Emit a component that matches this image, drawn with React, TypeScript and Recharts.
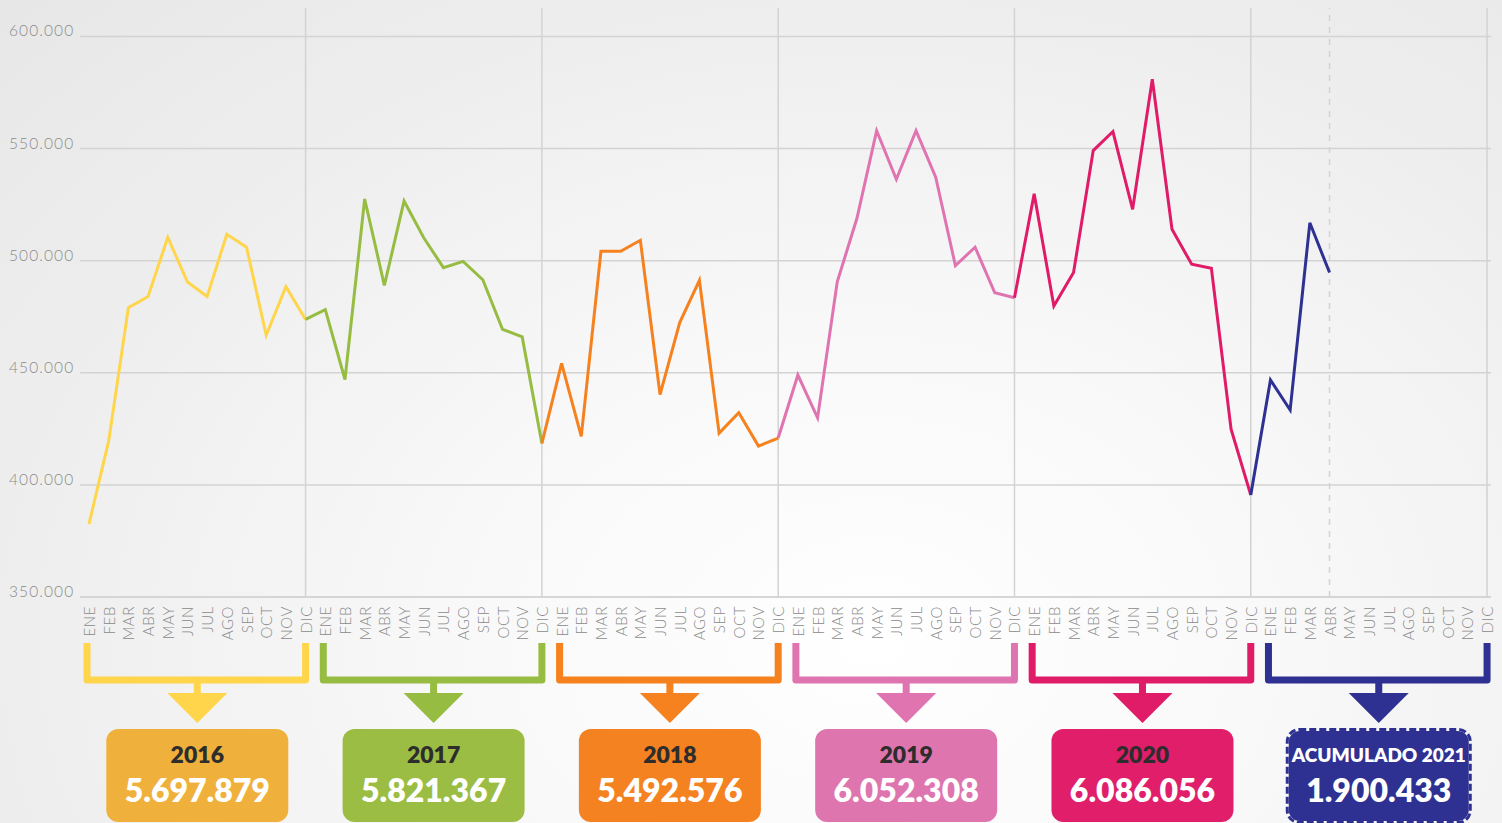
import React from "react";
import { LineChart, Line, XAxis, YAxis, ReferenceLine } from "recharts";

const MONTHS = ["ENE", "FEB", "MAR", "ABR", "MAY", "JUN", "JUL", "AGO", "SEP", "OCT", "NOV", "DIC"];
const YEARS = ["2016", "2017", "2018", "2019", "2020", "2021"];

const v2016 = [382600, 419600, 479000, 484000, 510400, 490500, 484000, 511800, 506000, 466700, 488400, 473800];
const v2017 = [478200, 447000, 527500, 489000, 526600, 510200, 496900, 499700, 491500, 469400, 466000, 418500];
const v2018 = [454200, 421600, 504200, 504200, 509100, 440300, 472400, 491200, 423100, 432200, 417300, 420900];
const v2019 = [449000, 429900, 490600, 518900, 558000, 536300, 558000, 537200, 497800, 506000, 485700, 483500];
const v2020 = [529800, 479800, 494700, 549100, 557600, 522900, 580900, 514000, 498400, 496600, 424800, 395500];
const v2021 = [446800, 433400, 516900, 494700];

const BOX_TITLES = ["2016", "2017", "2018", "2019", "2020", "ACUMULADO 2021"];
const TOTALS = ["5.697.879", "5.821.367", "5.492.576", "6.052.308", "6.086.056", "1.900.433"];
const Y_TICKS = [350000, 400000, 450000, 500000, 550000, 600000];

const SERIES = [v2016, v2017, v2018, v2019, v2020, v2021];
const LINE_COLORS = ["#FFD54C", "#97BC42", "#F5821F", "#E074B1", "#E01B68", "#2E3192"];
const BOX_COLORS = ["#EFB13C", "#9BBD43", "#F58220", "#DF75AF", "#E01E6A", "#2E3192"];
const FONT = "Lato, 'Open Sans', sans-serif";
const GRID = "#d3d3d3";

// one row per month, each year's line also starts at the previous year's DIC
const rows: any[] = [];
YEARS.forEach((_, k) =>
  MONTHS.forEach((m, j) => rows.push({ i: k * 12 + j, month: m }))
);
SERIES.forEach((vals, k) => {
  vals.forEach((v, j) => (rows[k * 12 + j]["s" + k] = v));
  if (k > 0) rows[k * 12 - 1]["s" + k] = SERIES[k - 1][11];
});

const fmt = (v: number) => String(v).replace(/\B(?=(\d{3})+(?!\d))/g, ".");

const MonthTick = ({ x, y, payload }: any) => (
  <text
    transform={`translate(${x},${y}) rotate(-90)`}
    textAnchor="end"
    dominantBaseline="central"
    fill="#8a8a8a"
    fontSize={15}
    fontWeight={300}
    letterSpacing={0.6}
    fontFamily={FONT}
  >
    {MONTHS[payload.value % 12]}
  </text>
);

const ValueTick = ({ y, payload }: any) => (
  <text
    x={9}
    y={y - 6}
    dominantBaseline="central"
    fill="#8b8b8b"
    fontSize={15.5}
    fontWeight={300}
    letterSpacing={1.1}
    fontFamily={FONT}
  >
    {fmt(payload.value)}
  </text>
);

const YearBracket = ({ x1, x2, y1, k }: any) => {
  const color = LINE_COLORS[k];
  const box = BOX_COLORS[k];
  const cx = (x1 + x2) / 2;
  const top = y1 + 46;
  const bot = y1 + 83;
  const last = k === YEARS.length - 1;
  return (
    <g>
      <path
        d={`M${x1 - 2},${top} V${bot} H${x2} V${top}`}
        fill="none"
        stroke={color}
        strokeWidth={7}
        strokeLinejoin="round"
      />
      <rect x={cx - 3.5} y={bot} width={7} height={14} fill={color} />
      <path d={`M${cx - 30},${bot + 13} H${cx + 30} L${cx},${bot + 43} Z`} fill={color} />
      {last ? (
        <g>
          <rect x={cx - 90} y={y1 + 134} width={180} height={90} rx={11} fill={box} />
          <rect
            x={cx - 91.5}
            y={y1 + 132.5}
            width={183}
            height={93}
            rx={12}
            fill="none"
            stroke={box}
            strokeWidth={3}
            strokeDasharray="7 3"
          />
        </g>
      ) : (
        <rect x={cx - 91} y={y1 + 132} width={182} height={93} rx={12} fill={box} />
      )}
      <text
        x={cx}
        y={y1 + 157}
        textAnchor="middle"
        dominantBaseline="central"
        fill={last ? "#ffffff" : "#2d2d2d"}
        fontSize={last ? 19 : 23}
        fontWeight={800}
        fontFamily={FONT}
      >
        {BOX_TITLES[k]}
      </text>
      <text
        x={cx}
        y={y1 + 192}
        textAnchor="middle"
        dominantBaseline="central"
        fill="#ffffff"
        fontSize={32}
        fontWeight={800}
        fontFamily={FONT}
      >
        {TOTALS[k]}
      </text>
    </g>
  );
};

export default function App() {
  return (
    <div
      style={{
        position: "absolute",
        left: 0,
        top: 0,
        width: 1502,
        height: 823,
        background:
          "radial-gradient(ellipse at 58% 78%, #ffffff 0%, #f8f8f8 35%, #eeeeee 70%, #e7e7e7 100%)",
      }}
    >
      <LineChart width={1502} height={823} data={rows} margin={{ top: 8, right: 11, left: 0, bottom: 0 }}>
        <XAxis
          dataKey="i"
          type="number"
          domain={[-0.457, 71.2]}
          ticks={rows.map((r) => r.i)}
          interval={0}
          height={226}
          tickSize={0}
          tickMargin={9}
          tick={<MonthTick />}
          axisLine={{ stroke: GRID, strokeWidth: 1.5 }}
          tickLine={false}
        />
        <YAxis
          width={80}
          domain={[350000, 612700]}
          ticks={Y_TICKS}
          allowDataOverflow
          axisLine={false}
          tickLine={false}
          tick={<ValueTick />}
        />
        {Y_TICKS.map((t) => (
          <ReferenceLine key={"h" + t} y={t} stroke={GRID} strokeWidth={1.5} />
        ))}
        {YEARS.map((_, k) => (
          <ReferenceLine key={"v" + k} x={k * 12 + 11} stroke={GRID} strokeWidth={1.5} />
        ))}
        <ReferenceLine x={63} stroke={GRID} strokeWidth={1.5} strokeDasharray="6 6" />
        {SERIES.map((_, k) => (
          <Line
            key={"s" + k}
            dataKey={"s" + k}
            type="linear"
            stroke={LINE_COLORS[k]}
            strokeWidth={3}
            dot={false}
            activeDot={false}
            connectNulls={false}
            isAnimationActive={false}
          />
        ))}
        {YEARS.map((_, k) => (
          <ReferenceLine
            key={"b" + k}
            segment={[
              { x: k * 12, y: 350000 },
              { x: k * 12 + 11, y: 350000 },
            ]}
            ifOverflow="visible"
            shape={(p: any) => <YearBracket {...p} k={k} />}
          />
        ))}
      </LineChart>
    </div>
  );
}
